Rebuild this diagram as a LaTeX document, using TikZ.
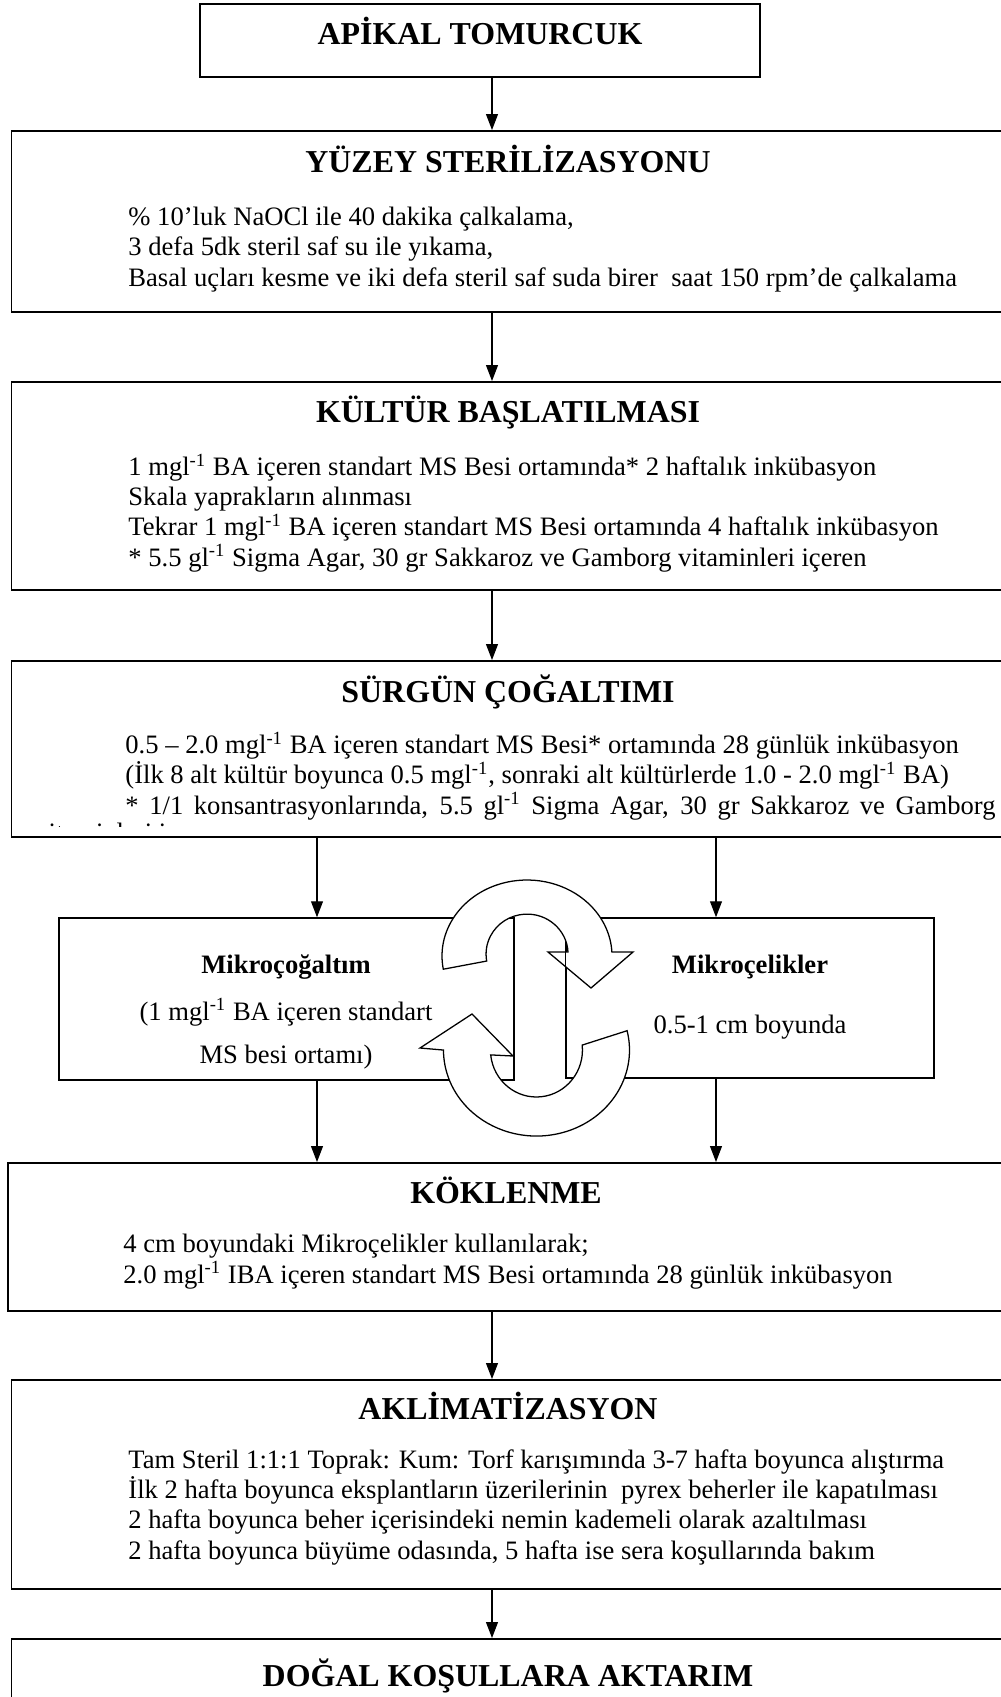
\documentclass[tikz,border=0pt]{standalone}
\usepackage{fontspec}
\setmainfont{Liberation Serif}
\usepackage{tikz}
\usetikzlibrary{arrows.meta,fit}
\newcommand{\minusone}{\textsuperscript{-1}}
\tikzset{
    flow-box/.style = {draw, line width=0.9pt, rectangle, inner sep=0pt},
    sub-box/.style = {draw, line width=0.7pt, rectangle, inner sep=0pt},
    flow-title/.style = {font=\fontsize{15}{17}\selectfont\bfseries, inner sep=0pt, anchor=base},
    flow-text/.style = {font=\fontsize{12.5}{14.2}\selectfont, align=left, inner sep=0pt, anchor=base west},
    sub-title/.style = {font=\fontsize{12.5}{14}\selectfont\bfseries, inner sep=0pt, anchor=base},
    sub-text/.style = {font=\fontsize{12.5}{14}\selectfont, inner sep=0pt, anchor=base},
    flow-arrow/.style = {-{Triangle[length=7.5pt, width=5.6pt]}, line width=0.55pt},
    turn-arrow/.style = {draw, fill=white, line width=0.6pt},
}

\begin{document}
\begin{tikzpicture}[x=0.47pt, y=-0.47pt]
\useasboundingbox (0,0) rectangle (1001,1697);
\clip (0,0) rectangle (1001,1697);

\node[flow-box, fit={(200,4) (760,77)}] (apikal) {};
\node[flow-title] (apikal-title) at (480,45) {APİKAL TOMURCUK};

\node[flow-box, fit={(11.5,131) (1005,312)}] (yuzey) {};
\node[flow-title] (yuzey-title) at (508,173) {YÜZEY STERİLİZASYONU};
\node[flow-text] (yuzey-text) at (128,286) {\% 10’luk NaOCl ile 40 dakika çalkalama,\\
    3 defa 5dk steril saf su ile yıkama,\\
    Basal uçları kesme ve iki defa steril saf suda birer\ \ saat 150 rpm’de çalkalama};

\node[flow-box, fit={(11.5,382) (1005,590)}] (kultur) {};
\node[flow-title] (kultur-title) at (508,422) {KÜLTÜR BAŞLATILMASI};
\node[flow-text] (kultur-text) at (128,566) {1 mgl\minusone{} BA içeren standart MS Besi ortamında* 2 haftalık inkübasyon\\
    Skala yaprakların alınması\\
    Tekrar 1 mgl\minusone{} BA içeren standart MS Besi ortamında 4 haftalık inkübasyon\\
    * 5.5 gl\minusone{} Sigma Agar, 30 gr Sakkaroz ve Gamborg vitaminleri içeren};

\node[flow-box, fit={(11.5,661) (1005,837)}] (surgun) {};
\node[flow-title] (surgun-title) at (508,702) {SÜRGÜN ÇOĞALTIMI};
\node[flow-text] (surgun-text) at (125,814) {0.5 – 2.0 mgl\minusone{} BA içeren standart MS Besi* ortamında 28 günlük inkübasyon\\
    (İlk 8 alt kültür boyunca 0.5 mgl\minusone, sonraki alt kültürlerde 1.0 - 2.0 mgl\minusone{} BA)\\
    \makebox[409pt][s]{* 1/1 konsantrasyonlarında, 5.5 gl\minusone{} Sigma Agar, 30 gr Sakkaroz ve Gamborg}};
\begin{scope}
    \clip (12,800) rectangle (1001,826);
    \node[flow-text] (surgun-cut) at (35,841) {vitaminleri içeren};
\end{scope}

\node[sub-box, fit={(59,918) (514,1080)}] (mikro-left) {};
\node[sub-title] (mikro-left-title) at (286,973) {Mikroçoğaltım};
\node[sub-text] (mikro-left-text1) at (286,1020) {(1 mgl\minusone{} BA içeren standart};
\node[sub-text] (mikro-left-text2) at (286,1063) {MS besi ortamı)};

\node[sub-box, fit={(566,918) (934,1078)}] (mikro-right) {};
\node[sub-title] (mikro-right-title) at (750,973) {Mikroçelikler};
\node[sub-text] (mikro-right-text) at (750,1033) {0.5-1 cm boyunda};

\node[flow-box, fit={(8,1163) (1005,1311)}] (koklenme) {};
\node[flow-title] (koklenme-title) at (506,1203) {KÖKLENME};
\node[flow-text] (koklenme-text) at (123,1283) {4 cm boyundaki Mikroçelikler kullanılarak;\\
    2.0 mgl\minusone{} IBA içeren standart MS Besi ortamında 28 günlük inkübasyon};

\node[flow-box, fit={(11.5,1380) (1005,1589)}] (aklim) {};
\node[flow-title] (aklim-title) at (508,1419) {AKLİMATİZASYON};
\node[flow-text] (aklim-text) at (128,1559) {Tam Steril 1:1:1 Toprak: Kum: Torf karışımında 3-7 hafta boyunca alıştırma\\
    İlk 2 hafta boyunca eksplantların üzerilerinin\ \ pyrex beherler ile kapatılması\\
    2 hafta boyunca beher içerisindeki nemin kademeli olarak azaltılması\\
    2 hafta boyunca büyüme odasında, 5 hafta ise sera koşullarında bakım};

\node[flow-box, fit={(11.5,1639) (1005,1720)}] (dogal) {};
\node[flow-title] (dogal-title) at (508,1686) {DOĞAL KOŞULLARA AKTARIM};

\coordinate (axis) at (492,0);
\coordinate (left-axis) at (317,0);
\coordinate (right-axis) at (716,0);
\coordinate (edge-top) at (0,944);

\draw[flow-arrow] (apikal.south -| axis) -- (yuzey.north -| axis);
\draw[flow-arrow] (yuzey.south -| axis) -- (kultur.north -| axis);
\draw[flow-arrow] (kultur.south -| axis) -- (surgun.north -| axis);
\draw[flow-arrow] (surgun.south -| left-axis) -- (mikro-left.north -| left-axis);
\draw[flow-arrow] (surgun.south -| right-axis) -- (mikro-right.north -| right-axis);
\draw[flow-arrow] (mikro-left.south -| left-axis) -- (koklenme.north -| left-axis);
\draw[flow-arrow] (mikro-right.south -| right-axis) -- (koklenme.north -| right-axis);
\draw[flow-arrow] (koklenme.south -| axis) -- (aklim.north -| axis);
\draw[flow-arrow] (aklim.south -| axis) -- (dogal.north -| axis);

\draw[turn-arrow] (443.3,969.2) arc[start angle=170, end angle=357, x radius=85, y radius=76]
    -- (633,952) -- (591,988) -- (548,952) -- (568,952)
    arc[start angle=357, end angle=170, x radius=41, y radius=40] -- cycle;
\draw[turn-arrow] (627.1,1030.7) arc[start angle=-13, end angle=180, x radius=93, y radius=86]
    -- (420,1048) -- (472,1014) -- (513,1056) -- (490.7,1054.9)
    arc[start angle=174, end angle=-6, x radius=46, y radius=47] -- cycle;
\draw[line width=0.7pt] (mikro-right.south west |- edge-top) -- (mikro-right.south west);
\end{tikzpicture}
\end{document}
